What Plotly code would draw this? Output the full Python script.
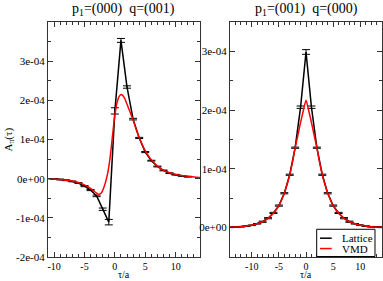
import numpy as np
import plotly.graph_objects as go

SCALE = 1e-4

# ---- left panel: p1=(000) q=(001) ----
tau_lat_L = [-10, -9, -8, -7, -6, -5, -4, -3, -2, -1, 0, 1, 2, 3, 4, 5, 6, 7, 8, 9, 10, 11, 12]
lat_L = [-0.01, -0.02, -0.04, -0.07, -0.11, -0.19, -0.29, -0.44, -0.78, -1.11, 1.73, 3.53, 2.34,
         1.52, 1.04, 0.68, 0.46, 0.31, 0.21, 0.14, 0.10, 0.07, 0.05]
err_L = [0.01, 0.01, 0.01, 0.01, 0.01, 0.015, 0.015, 0.02, 0.03, 0.07, 0.08, 0.05, 0.03,
         0.02, 0.015, 0.015, 0.01, 0.01, 0.01, 0.01, 0.01, 0.01, 0.01]

tau_vmd_L = [-11, -10, -9, -8, -7, -6, -5, -4, -3.5, -3, -2.6, -2.2, -1.8, -1.5, -1.2, -0.8, -0.4,
             0, 0.4, 0.8, 1.1, 1.5, 2, 2.5, 3, 3.5, 4, 5, 6, 7, 8, 9, 10, 11, 12, 13, 14]
vmd_L = [0.0, -0.01, -0.02, -0.04, -0.06, -0.10, -0.16, -0.25, -0.31, -0.37, -0.40, -0.36, -0.22,
         -0.07, 0.12, 0.52, 1.08, 1.62, 1.97, 2.12, 2.15, 2.08, 1.90, 1.70, 1.50, 1.26, 1.05,
         0.71, 0.48, 0.32, 0.21, 0.15, 0.11, 0.08, 0.06, 0.04, 0.03]

# ---- right panel: p1=(001) q=(000) ----
tau_lat_R = list(range(-14, 15))
lat_R = [0.005, 0.01, 0.015, 0.025, 0.04, 0.065, 0.10, 0.16, 0.25, 0.375, 0.585, 0.90, 1.36, 2.05,
         2.99,
         2.05, 1.36, 0.90, 0.585, 0.375, 0.25, 0.16, 0.10, 0.065, 0.04, 0.025, 0.015, 0.01, 0.005]
err_R = [0.005] * 6 + [0.01] * 7 + [0.02, 0.04, 0.02] + [0.01] * 7 + [0.005] * 6

tau_vmd_R = [-14, -13, -12, -11, -10, -9, -8, -7, -6, -5, -4, -3.5, -3, -2.5, -2, -1.5, -1, -0.5, 0,
             0.5, 1, 1.5, 2, 2.5, 3, 3.5, 4, 5, 6, 7, 8, 9, 10, 11, 12, 13, 14]
vmd_R = [0.007, 0.011, 0.017, 0.027, 0.04, 0.065, 0.10, 0.16, 0.245, 0.375, 0.585, 0.73, 0.90, 1.11,
         1.36, 1.57, 1.79, 1.99, 2.17,
         1.99, 1.79, 1.57, 1.36, 1.11, 0.90, 0.73, 0.585, 0.375, 0.245, 0.16, 0.10, 0.065, 0.04,
         0.027, 0.017, 0.011, 0.007]

# ---- tick labels ----
xtick_vals = [-10, -5, 0, 5, 10]
xtick_text = ["-10", "-5", "0", "5", "10"]
ytick_vals_L = [-2, -1, 0, 1, 2, 3]
ytick_text_L = ["-2e-04", "-1e-04", "0e+00", "1e-04", "2e-04", "3e-04"]
ytick_vals_R = [0, 1, 2, 3]
ytick_text_R = ["0e+00", "1e-04", "2e-04", "3e-04"]
legend_names = ["Lattice", "VMD"]
legend_colors = ["black", "red"]

FONT = "Liberation Serif"
AX = "#333333"


def sc(a):
    return (np.array(a, dtype=float) * SCALE).tolist()


fig = go.Figure()

fig.add_trace(go.Scatter(x=tau_lat_L, y=sc(lat_L), mode="lines", name=legend_names[0],
                         line=dict(color=legend_colors[0], width=1.5),
                         error_y=dict(type="data", array=sc(err_L), color="black", thickness=1, width=4),
                         xaxis="x", yaxis="y", showlegend=False))
fig.add_trace(go.Scatter(x=tau_vmd_L, y=sc(vmd_L), mode="lines", name=legend_names[1],
                         line=dict(color=legend_colors[1], width=1.5, shape="spline", smoothing=0.8),
                         xaxis="x", yaxis="y", showlegend=False))
fig.add_trace(go.Scatter(x=tau_lat_R, y=sc(lat_R), mode="lines", name=legend_names[0],
                         line=dict(color=legend_colors[0], width=1.5),
                         error_y=dict(type="data", array=sc(err_R), color="black", thickness=1, width=4),
                         xaxis="x2", yaxis="y2", showlegend=False))
fig.add_trace(go.Scatter(x=tau_vmd_R, y=sc(vmd_R), mode="lines", name=legend_names[1],
                         line=dict(color=legend_colors[1], width=1.5, shape="spline", smoothing=0.6),
                         xaxis="x2", yaxis="y2", showlegend=False))


def xax(domain, rng, anchor):
    return dict(domain=domain, range=rng, anchor=anchor, tickvals=xtick_vals, ticktext=xtick_text,
                ticks="inside", ticklen=5, tickcolor=AX, showline=True, linecolor=AX, linewidth=1.2,
                mirror="ticks", showgrid=False, zeroline=False,
                tickfont=dict(family=FONT, size=10, color="black"),
                minor=dict(dtick=1, tick0=0, ticks="inside", ticklen=3, tickcolor=AX, showgrid=False))


def yax(rng, vals, text, anchor):
    return dict(range=[r * SCALE for r in rng], anchor=anchor,
                tickvals=[v * SCALE for v in vals], ticktext=text,
                ticks="inside", ticklen=5, tickcolor=AX, showline=True, linecolor=AX, linewidth=1.2,
                mirror="ticks", showgrid=False, zeroline=False,
                tickfont=dict(family=FONT, size=11, color="black"),
                minor=dict(dtick=0.5 * SCALE, tick0=0, ticks="inside", ticklen=3, tickcolor=AX,
                           showgrid=False))


fig.update_layout(
    width=383, height=281,
    margin=dict(l=48, r=1, t=22, b=24),
    paper_bgcolor="white", plot_bgcolor="white",
    font=dict(family=FONT, size=11, color="black"),
    xaxis=xax([0, 0.455], [-11, 14], "y"),
    yaxis=yax([-2, 4], ytick_vals_L, ytick_text_L, "x"),
    xaxis2=xax([0.545, 1], [-14, 14], "y2"),
    yaxis2=yax([-0.5, 3.5], ytick_vals_R, ytick_text_R, "x2"),
    showlegend=False,
)

annots = [
    dict(text="p<sub>1</sub>=(000)  q=(001)", x=0.2275, y=1, xref="paper", yref="paper",
         xanchor="center", yanchor="bottom", yshift=2, showarrow=False, font=dict(family=FONT, size=14)),
    dict(text="p<sub>1</sub>=(001)  q=(000)", x=0.7725, y=1, xref="paper", yref="paper",
         xanchor="center", yanchor="bottom", yshift=2, showarrow=False, font=dict(family=FONT, size=14)),
    dict(text="τ/a", x=0.2275, y=0, xref="paper", yref="paper", xanchor="center", yanchor="bottom",
         yshift=-24, showarrow=False, font=dict(family=FONT, size=10), borderpad=0),
    dict(text="τ/a", x=0.7725, y=0, xref="paper", yref="paper", xanchor="center", yanchor="bottom",
         yshift=-24, showarrow=False, font=dict(family=FONT, size=10), borderpad=0),
    dict(text="A<sub>π</sub>(τ)", x=0, y=0.5, xref="paper", yref="paper", xanchor="center",
         yanchor="middle", xshift=-40, textangle=-90, showarrow=False, font=dict(family=FONT, size=11)),
]

# manual legend box (bottom-right of right panel)
shapes = [dict(type="rect", xref="paper", yref="paper", x0=0.8045, x1=0.979, y0=0.002, y1=0.118,
               line=dict(color="black", width=1), fillcolor="white", layer="above")]
legend_y = [0.080, 0.036]
for nm, col, yy in zip(legend_names, legend_colors, legend_y):
    shapes.append(dict(type="line", xref="paper", yref="paper", x0=0.8144, x1=0.8494, y0=yy, y1=yy,
                       line=dict(color=col, width=1.5), layer="above"))
    annots.append(dict(text=nm, x=0.876, y=yy, xref="paper", yref="paper", xanchor="left",
                       yanchor="middle", showarrow=False, font=dict(family=FONT, size=11),
                       borderpad=0))

fig.update_layout(annotations=annots, shapes=shapes)

fig.write_html("out.html", config={"displayModeBar": False},
               post_script="document.body.style.margin='0';")
